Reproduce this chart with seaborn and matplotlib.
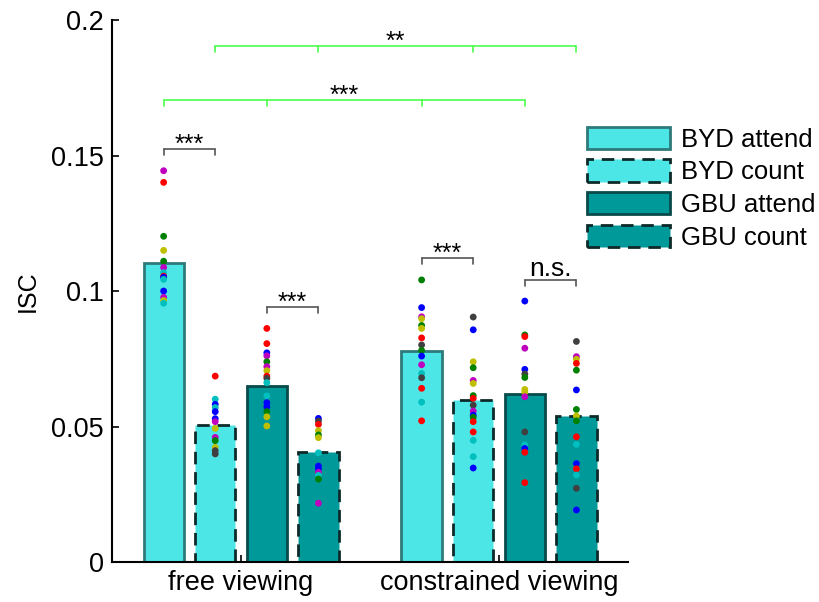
import pandas as pd
import matplotlib
matplotlib.use("Agg")
import matplotlib.pyplot as plt
from matplotlib.patches import Patch
import seaborn as sns

views = ["free viewing", "constrained viewing"]
conds = ["BYD attend", "BYD count", "GBU attend", "GBU count"]

# bar heights (mean ISC), one list per condition: [free, constrained]
byd_attend_mean = [0.1103, 0.0779]
byd_count_mean = [0.0506, 0.0598]
gbu_attend_mean = [0.0650, 0.0620]
gbu_count_mean = [0.0407, 0.0539]

# individual subjects, value + colour code
free_byd_attend = [0.1444, 0.1401, 0.1202, 0.1150, 0.1110, 0.1087, 0.1068, 0.1055, 0.1051, 0.1043, 0.1000, 0.0977, 0.0965, 0.0955]
free_byd_attend_c = ["m", "r", "g", "y", "g", "m", "c", "r", "b", "c", "b", "m", "y", "c"]
free_byd_count = [0.0686, 0.0601, 0.0582, 0.0570, 0.0555, 0.0529, 0.0518, 0.0493, 0.0460, 0.0448, 0.0423, 0.0411, 0.0399]
free_byd_count_c = ["r", "c", "b", "c", "b", "b", "m", "y", "m", "g", "y", "k", "k"]
free_gbu_attend = [0.0862, 0.0806, 0.0772, 0.0761, 0.0739, 0.0721, 0.0706, 0.0686, 0.0678, 0.0662, 0.0613, 0.0588, 0.0573, 0.0555, 0.0536, 0.0502]
free_gbu_attend_c = ["r", "r", "b", "m", "g", "m", "y", "r", "k", "c", "c", "b", "b", "g", "y", "y"]
free_gbu_count = [0.0530, 0.0520, 0.0508, 0.0485, 0.0469, 0.0459, 0.0403, 0.0354, 0.0343, 0.0331, 0.0320, 0.0306, 0.0217]
free_gbu_count_c = ["b", "k", "r", "y", "g", "y", "c", "b", "b", "m", "c", "g", "m"]

con_byd_attend = [0.1041, 0.0939, 0.0905, 0.0898, 0.0873, 0.0862, 0.0827, 0.0801, 0.0781, 0.0760, 0.0728, 0.0696, 0.0680, 0.0641, 0.0590, 0.0521]
con_byd_attend_c = ["g", "b", "m", "y", "g", "y", "r", "k", "g", "b", "m", "c", "k", "r", "c", "r"]
con_byd_count = [0.0904, 0.0857, 0.0739, 0.0717, 0.0670, 0.0659, 0.0614, 0.0604, 0.0579, 0.0557, 0.0542, 0.0534, 0.0518, 0.0480, 0.0449, 0.0389, 0.0347]
con_byd_count_c = ["k", "b", "y", "g", "m", "y", "g", "r", "k", "m", "b", "g", "r", "r", "c", "c", "b"]
con_gbu_attend = [0.0963, 0.0838, 0.0832, 0.0789, 0.0711, 0.0694, 0.0681, 0.0637, 0.0627, 0.0610, 0.0480, 0.0432, 0.0419, 0.0405, 0.0293]
con_gbu_attend_c = ["b", "g", "r", "m", "b", "k", "g", "y", "y", "m", "k", "c", "b", "r", "r"]
con_gbu_count = [0.0814, 0.0758, 0.0748, 0.0733, 0.0708, 0.0635, 0.0563, 0.0539, 0.0521, 0.0462, 0.0434, 0.0363, 0.0344, 0.0321, 0.0272, 0.0192]
con_gbu_count_c = ["k", "m", "y", "r", "g", "b", "g", "y", "g", "r", "c", "b", "r", "c", "k", "b"]

matlab_cols = {"b": "#0000ff", "g": "#008000", "r": "#ff0000", "c": "#00bfbf",
               "m": "#bf00bf", "y": "#bfbf00", "k": "#404040"}

sns.set_style("white")
plt.rcParams["font.family"] = ["Liberation Sans", "DejaVu Sans"]
plt.rcParams["text.color"] = "black"
plt.rcParams["axes.labelcolor"] = "black"
plt.rcParams["xtick.color"] = "black"
plt.rcParams["ytick.color"] = "black"

fig = plt.figure(figsize=(8.19, 6.02), dpi=100)
ax = fig.add_axes([0.1368, 0.0664, 0.6300, 0.9003])

df = pd.DataFrame({
    "view": views * 4,
    "cond": [c for c in conds for _ in views],
    "ISC": byd_attend_mean + byd_count_mean + gbu_attend_mean + gbu_count_mean,
})

fills = ["#4de6e6", "#4de6e6", "#009999", "#009999"]
edges = ["#2e7a7a", "#0d2a2a", "#0a4a4a", "#0d2a2a"]
styles = ["-", (0, (4.5, 2.8)), "-", (0, (4.5, 2.8))]

sns.barplot(data=df, x="view", y="ISC", hue="cond", order=views, hue_order=conds,
            palette=fills, width=0.8, gap=0.22, errorbar=None, saturation=1,
            legend=False, ax=ax)

centers = {}
for i, cont in enumerate(ax.containers):
    for j, bar in enumerate(cont):
        bar.set_edgecolor(edges[i])
        bar.set_linestyle(styles[i])
        bar.set_linewidth(2)
        centers[(j, i)] = bar.get_x() + bar.get_width() / 2

dot_sets = [
    (0, 0, free_byd_attend, free_byd_attend_c), (0, 1, free_byd_count, free_byd_count_c),
    (0, 2, free_gbu_attend, free_gbu_attend_c), (0, 3, free_gbu_count, free_gbu_count_c),
    (1, 0, con_byd_attend, con_byd_attend_c), (1, 1, con_byd_count, con_byd_count_c),
    (1, 2, con_gbu_attend, con_gbu_attend_c), (1, 3, con_gbu_count, con_gbu_count_c),
]
rows = []
for v, c, vals, cols in dot_sets:
    for val, col in zip(vals, cols):
        rows.append({"x": centers[(v, c)], "y": val, "col": col})
dots = pd.DataFrame(rows)
sns.scatterplot(data=dots, x="x", y="y", hue="col", palette=matlab_cols,
                s=24, linewidth=0, legend=False, ax=ax, zorder=3)


def bracket(xs, y, color, label, ty, size=18, h=0.0022):
    ax.plot([xs[0], xs[-1]], [y, y], color=color, lw=1.2, zorder=4)
    for x in xs:
        ax.plot([x, x], [y, y - h], color=color, lw=1.2, zorder=4)
    if len(xs) == 4:
        tx = (xs[1] + xs[2]) / 2
    else:
        tx = (xs[0] + xs[-1]) / 2
    ax.text(tx, ty, label, ha="center", va="center", fontsize=size)


grey = "#555555"
green = "#4dff4d"
bracket([centers[(0, 0)], centers[(0, 1)]], 0.1524, grey, "***", 0.1540)
bracket([centers[(0, 2)], centers[(0, 3)]], 0.0942, grey, "***", 0.0958)
bracket([centers[(1, 0)], centers[(1, 1)]], 0.1121, grey, "***", 0.1137)
bracket([centers[(1, 2)], centers[(1, 3)]], 0.1041, grey, "n.s.", 0.1082, size=19)
bracket([centers[(0, 0)], centers[(0, 2)], centers[(1, 0)], centers[(1, 2)]],
        0.1705, green, "***", 0.1721)
bracket([centers[(0, 1)], centers[(0, 3)], centers[(1, 1)], centers[(1, 3)]],
        0.1905, green, "**", 0.1921)

ax.set_xlim(-0.5, 1.5)
ax.set_ylim(0, 0.2)
ax.set_yticks([0, 0.05, 0.1, 0.15, 0.2])
ax.set_yticklabels(["0", "0.05", "0.1", "0.15", "0.2"])
ax.set_xlabel("")
ax.set_ylabel("ISC", fontsize=18, labelpad=8)
ax.tick_params(axis="both", direction="in", length=5, width=1.2, labelsize=19.5,
               left=True, bottom=True, pad=6)
sns.despine(ax=ax)
for s in ["left", "bottom"]:
    ax.spines[s].set_color("black")
    ax.spines[s].set_linewidth(1.5)

handles = [Patch(facecolor=fills[i], edgecolor=edges[i], linestyle=styles[i],
                 linewidth=2, label=conds[i]) for i in range(4)]
fig.legend(handles=handles, loc="upper left", bbox_to_anchor=(0.711, 0.798),
           frameon=False, fontsize=18.5, handlelength=3.2, handleheight=0.95,
           handletextpad=0.45, labelspacing=0.3, borderpad=0.2, borderaxespad=0)

fig.savefig("out.png", dpi=100)
